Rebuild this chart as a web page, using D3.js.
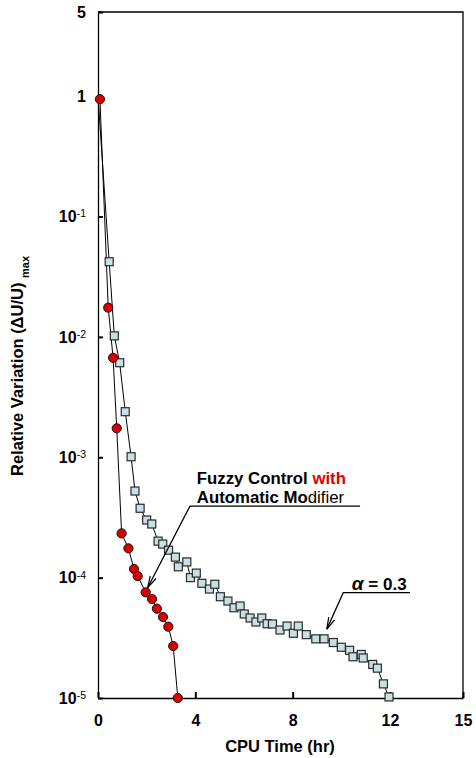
<!DOCTYPE html>
<html lang="en">
<head>
<meta charset="utf-8">
<title>Relative Variation vs CPU Time</title>
<style>
  body { margin: 0; background: #fff; }
  svg text { font-family: "Liberation Sans", Arial, Helvetica, sans-serif; }
</style>
</head>
<body>
<svg width="476" height="758"></svg>
<script src="https://cdn.jsdelivr.net/npm/d3@7/dist/d3.min.js"></script>
<script>
// --- data ---
// Fuzzy control with automatic modifier (red circles)
var fuzzyTime = [0.08, 0.42, 0.62, 0.77, 0.97, 1.25, 1.48, 1.63, 1.96, 2.22, 2.42, 2.67, 2.89, 3.09, 3.28];
var fuzzyVar = [0.944, 0.0175, 0.0067, 0.00174, 2.33e-4, 1.75e-4, 1.18e-4, 1.03e-4, 7.55e-5, 6.64e-5, 5.52e-5, 4.71e-5, 3.91e-5, 2.70e-5, 1.0e-5];

// alpha = 0.3 (light blue squares)
var alphaTime = [0, 0.46, 0.67, 0.89, 1.12, 1.36, 1.52, 1.73, 2.00, 2.21, 2.47, 2.66, 2.90, 3.18, 3.30, 3.65,
  3.80, 4.04, 4.27, 4.58, 4.80, 5.03, 5.34, 5.59, 5.84, 6.01, 6.25, 6.49, 6.73, 6.95, 7.17, 7.48, 7.77,
  8.03, 8.23, 8.56, 8.95, 9.29, 9.67, 10.0, 10.34, 10.48, 10.82, 10.90, 11.29, 11.48, 11.73, 11.96];
var alphaVar = [1.0, 0.0421, 0.0102, 0.0061, 0.00239, 0.00101, 5.24e-4, 3.77e-4, 3.01e-4, 2.79e-4, 2.01e-4,
  1.90e-4, 1.69e-4, 1.48e-4, 1.23e-4, 1.35e-4, 1.0e-4, 1.09e-4, 8.97e-5, 8.04e-5, 8.81e-5, 6.94e-5,
  6.39e-5, 5.62e-5, 5.81e-5, 4.99e-5, 4.62e-5, 4.28e-5, 4.62e-5, 4.14e-5, 4.12e-5, 3.67e-5, 3.96e-5,
  3.45e-5, 3.96e-5, 3.36e-5, 3.10e-5, 3.10e-5, 2.89e-5, 2.64e-5, 2.49e-5, 2.20e-5, 2.30e-5, 2.15e-5,
  1.90e-5, 1.77e-5, 1.31e-5, 1.02e-5];

var xTicks = [0, 4, 8, 12, 15];
var yTicks = [5, 1, 1e-1, 1e-2, 1e-3, 1e-4, 1e-5];
var yTickBase = ['5', '1', '10', '10', '10', '10', '10'];
var yTickExp = ['', '', '-1', '-2', '-3', '-4', '-5'];

var svg = d3.select('svg');
var plotLeft = 98, plotRight = 463, plotTop = 12, plotBottom = 698;

var x = d3.scaleLinear().domain([0, 15]).range([plotLeft, plotRight]);
var y = d3.scaleLog().domain([1e-5, 5]).range([plotBottom, plotTop]);

var fuzzy = fuzzyTime.map(function(t, i) { return { t: t, v: fuzzyVar[i] }; });
var alpha = alphaTime.map(function(t, i) { return { t: t, v: alphaVar[i] }; });

// frame (top and right)
svg.append('path')
  .attr('d', 'M' + x(0) + ',' + y(5) + 'H' + x(15) + 'V' + y(1e-5))
  .attr('fill', 'none')
  .attr('stroke', '#000')
  .attr('stroke-width', 1.3);

// x axis
var xAxis = svg.append('g')
  .attr('transform', 'translate(0,' + plotBottom + ')')
  .call(d3.axisBottom(x).tickValues(xTicks).tickSizeInner(-6).tickSizeOuter(0).tickPadding(17)
    .tickFormat(d3.format('d')));
xAxis.select('.domain').attr('stroke-width', 1.3);
xAxis.selectAll('.tick line').attr('stroke-width', 2);
xAxis.selectAll('text').attr('font-size', 16).attr('font-weight', 'bold').attr('fill', '#000');

// y axis
var yAxis = svg.append('g')
  .attr('transform', 'translate(' + plotLeft + ',0)')
  .call(d3.axisLeft(y).tickValues(yTicks).tickSizeInner(-5).tickSizeOuter(0).tickPadding(12)
    .tickFormat(function() { return ''; }));
yAxis.select('.domain').attr('stroke-width', 1.3);
yAxis.selectAll('.tick line').attr('stroke-width', 2);
yAxis.selectAll('.tick text').each(function(d, i) {
  var t = d3.select(this).attr('fill', '#000').attr('font-size', 16).attr('font-weight', 'bold');
  t.append('tspan').text(yTickBase[i]);
  if (yTickExp[i]) {
    t.append('tspan').attr('font-size', 10.5).attr('font-weight', 'normal')
      .attr('dy', '-0.45em').text(yTickExp[i]);
  }
});

// axis titles
svg.append('text')
  .attr('x', 280).attr('y', 752)
  .attr('text-anchor', 'middle')
  .attr('font-size', 16.5).attr('font-weight', 'bold')
  .text('CPU Time (hr)');

var yTitle = svg.append('text')
  .attr('transform', 'translate(23,366) rotate(-90)')
  .attr('text-anchor', 'middle')
  .attr('font-size', 16.5).attr('font-weight', 'bold');
yTitle.append('tspan').text('Relative Variation (\u0394U/U) ');
yTitle.append('tspan').attr('font-size', 11).attr('dy', 6).text('max');

// series lines
var line = d3.line()
  .x(function(d) { return x(d.t); })
  .y(function(d) { return y(d.v); });

svg.append('path').datum(alpha)
  .attr('d', line).attr('fill', 'none').attr('stroke', '#000').attr('stroke-width', 1);
svg.append('path').datum(fuzzy)
  .attr('d', line).attr('fill', 'none').attr('stroke', '#000').attr('stroke-width', 1);

// square markers (first point hidden under circle)
svg.append('g').selectAll('rect')
  .data(alpha.slice(1))
  .enter().append('rect')
  .attr('x', function(d) { return x(d.t) - 4; })
  .attr('y', function(d) { return y(d.v) - 4; })
  .attr('width', 8).attr('height', 8)
  .attr('fill', '#c8e0e1')
  .attr('stroke', '#2a2a2a')
  .attr('stroke-width', 1.2);

svg.append('g').selectAll('circle')
  .data(fuzzy)
  .enter().append('circle')
  .attr('cx', function(d) { return x(d.t); })
  .attr('cy', function(d) { return y(d.v); })
  .attr('r', 4.6)
  .attr('fill', '#d80000')
  .attr('stroke', '#111')
  .attr('stroke-width', 1);

// annotations
svg.append('defs').append('marker')
  .attr('id', 'head')
  .attr('viewBox', '0 0 12 8')
  .attr('refX', 12).attr('refY', 4)
  .attr('markerWidth', 12).attr('markerHeight', 8)
  .attr('markerUnits', 'userSpaceOnUse')
  .attr('orient', 'auto')
  .append('path')
  .attr('d', 'M0,0.8 L12,4 L0,7.2')
  .attr('fill', 'none')
  .attr('stroke', '#000')
  .attr('stroke-width', 1.2);

function leader(x0, x1, yLine, xTip, yTip) {
  svg.append('path')
    .attr('d', 'M' + x(x1) + ',' + y(yLine) + 'H' + x(x0) + 'L' + x(xTip) + ',' + y(yTip))
    .attr('fill', 'none')
    .attr('stroke', '#000')
    .attr('stroke-width', 1.3)
    .attr('marker-end', 'url(#head)');
}

var fz1 = svg.append('text')
  .attr('x', x(4.06)).attr('y', y(5.99e-4))
  .attr('font-size', 16.8).attr('font-weight', 'bold');
fz1.append('tspan').text('Fuzzy Control ');
fz1.append('tspan').attr('fill', '#e00000').text('with');

var fz2 = svg.append('text')
  .attr('x', x(4.06)).attr('y', y(4.19e-4))
  .attr('font-size', 16.8).attr('font-weight', 'bold');
fz2.append('tspan').text('Automatic Mo');
fz2.append('tspan').attr('font-weight', 'normal').text('difier');

leader(3.78, 10.77, 3.93e-4, 2.04, 8.25e-5);

var al = svg.append('text')
  .attr('x', x(10.43)).attr('y', y(7.95e-5))
  .attr('font-size', 17).attr('font-weight', 'bold');
al.append('tspan').attr('font-style', 'italic').attr('font-size', 19).text('\u03B1');
al.append('tspan').text(' = 0.3');

leader(10.08, 12.82, 7.5e-5, 9.40, 3.72e-5);
</script>
</body>
</html>
